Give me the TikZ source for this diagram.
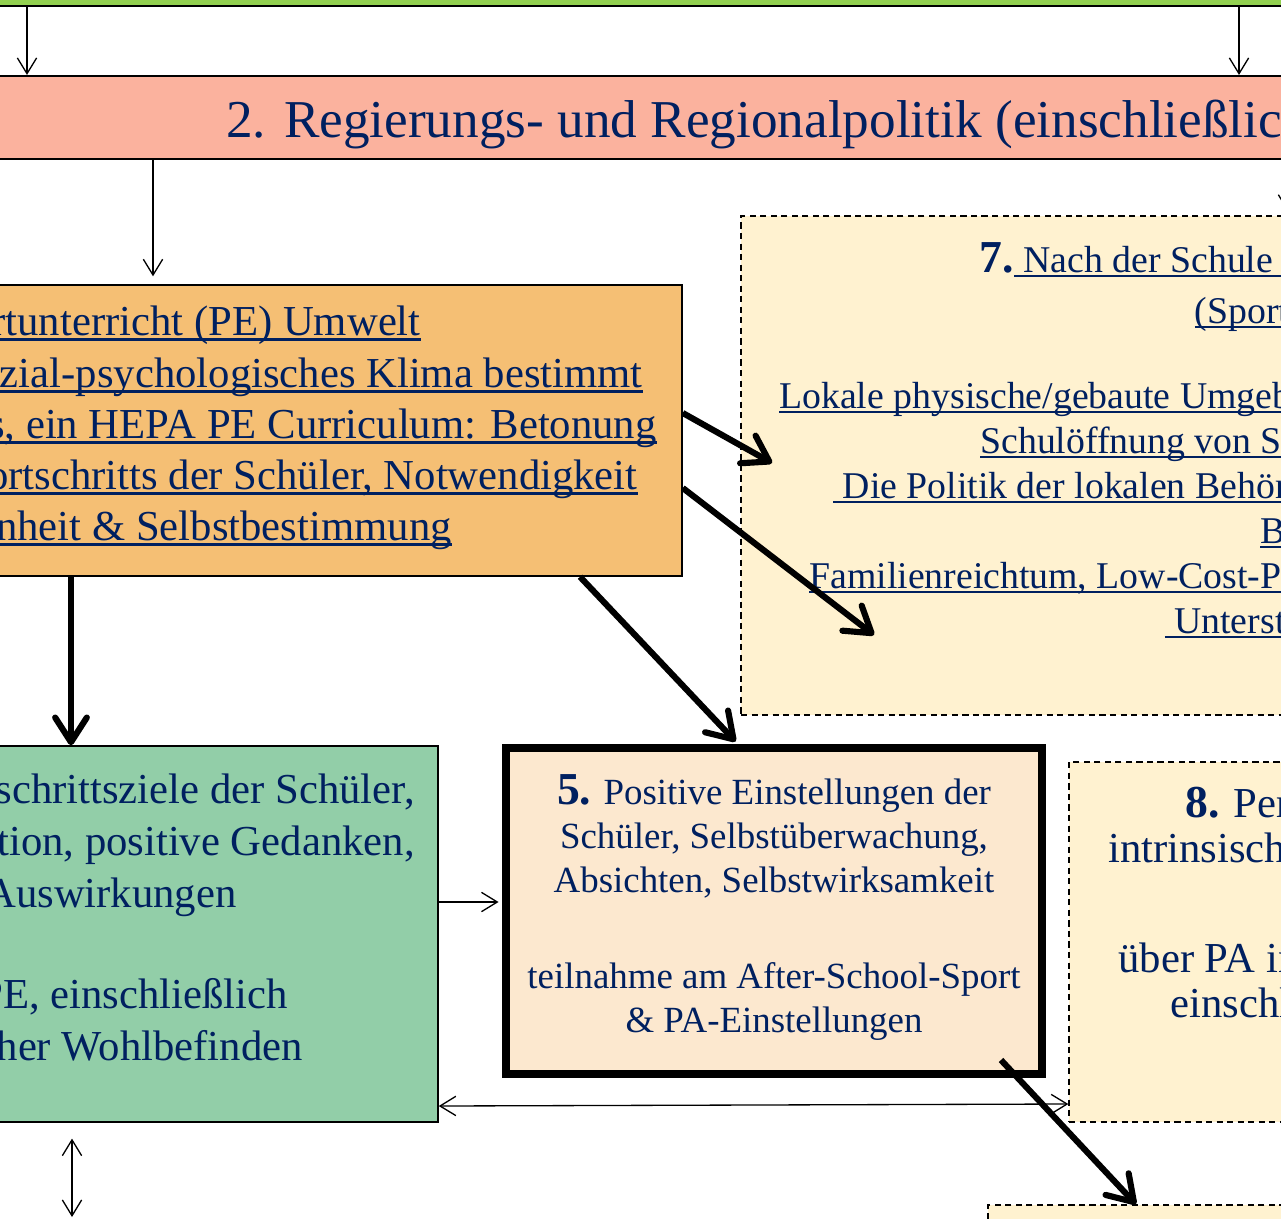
\documentclass[tikz,border=0pt]{standalone}
\usepackage{fontspec}
\setmainfont{Liberation Serif}
\usetikzlibrary{arrows.meta,fit}
\definecolor{navy}{RGB}{0,32,96}
\definecolor{topgreen}{RGB}{146,208,80}
\definecolor{pinkbox}{RGB}{251,178,158}
\definecolor{orangebox}{RGB}{245,191,116}
\definecolor{cream}{RGB}{255,242,208}
\definecolor{peach}{RGB}{252,232,207}
\definecolor{mint}{RGB}{146,206,168}
\newcommand\fs[2]{\fontsize{#1}{#2}\selectfont}
\newsavebox\ulbox
\newcommand\ulx[1]{\sbox\ulbox{#1}\rlap{\rule[-0.13em]{\wd\ulbox}{0.055em}}\usebox\ulbox}
\begin{document}
\begin{tikzpicture}[x=0.02cm,y=-0.02cm,
  box/.style={draw=black, inner sep=0pt, line width=0.9pt},
  dbox/.style={draw=black, fill=cream, inner sep=0pt, line width=0.8pt, dash pattern=on 3.5pt off 2.5pt},
  thinarr/.style={line width=0.75pt, -{Straight Barb[length=9pt,width=11pt]}},
  thinboth/.style={line width=0.75pt, {Straight Barb[length=9pt,width=11pt]}-{Straight Barb[length=9pt,width=11pt]}},
  thickarr/.style={line width=3.5pt, -{Straight Barb[length=14pt,width=18pt,round]}},
  txt/.style={inner sep=0pt, text=navy},
  big/.style={txt, font=\fs{24.3}{29}},
  mid/.style={txt, font=\fs{21.5}{25.5}},
  small/.style={txt, font=\fs{21}{25.2}},
]
\useasboundingbox (0,0) rectangle (1281,1218);
\clip (0,0) rectangle (1281,1218);

% boxes
\node[box, fill=topgreen, line width=1.2pt, fit={(-20,-40) (1300,6)}] (g0) {};
\node[box, fill=pinkbox, line width=1.2pt, fit={(-20,76) (1300,159)}] (p2) {};
\node[box, fill=orangebox, fit={(-20,285) (682,576)}] (o1) {};
\node[dbox, fit={(741,216) (1300,715)}] (b7) {};
\node[box, fill=mint, fit={(-20,746) (438,1122)}] (b4) {};
\node[box, fill=peach, line width=4.5pt, fit={(506,748) (1042,1074)}] (b5) {};
\node[dbox, fit={(1069,762) (1300,1122)}] (b8) {};
\node[dbox, fit={(988,1205) (1300,1300)}] (b9) {};

% pink text
\node[txt, anchor=base west, font=\fs{30.3}{36}] (t2) at (226,137) {2. Regierungs- und Regionalpolitik (einschließlich};

% orange text
\node[big, anchor=base east] (o1l1) at (421,335) {\ulx{rtunterricht (PE) Umwelt}};
\node[big, anchor=base east] (o1l2) at (643,387) {\ulx{zial-psychologisches Klima bestimmt}};
\node[big, anchor=base east] (o1l3) at (657,438) {\ulx{s, ein HEPA PE Curriculum: Betonung}};
\node[big, anchor=base east] (o1l4) at (638,489) {\ulx{ortschritts der Schüler, Notwendigkeit}};
\node[big, anchor=base east] (o1l5) at (452,540) {\ulx{nheit \& Selbstbestimmung}};

% box 7 text
\node[mid, anchor=base west] (b7l1) at (979.5,272) {{\bfseries\fs{26}{26}7.}\ulx{\ Nach der Schule\ \ }};
\node[mid, anchor=base west] (b7l2) at (1194.5,323) {\ulx{(Sport}};
\node[mid, anchor=base west] (b7l3) at (779,408) {\ulx{Lokale physische/gebaute Umgebung}};
\node[mid, anchor=base west] (b7l4) at (980,453) {\ulx{Schulöffnung von Schulen}};
\node[mid, anchor=base west] (b7l5) at (833,498) {\ulx{\ Die Politik der lokalen Behörden}};
\node[mid, anchor=base west] (b7l6) at (1260,543) {\ulx{B}};
\node[mid, anchor=base west] (b7l7) at (809,588) {\ulx{Familienreichtum, Low-Cost-Programme}};
\node[mid, anchor=base west] (b7l8) at (1164.5,633) {\ulx{\ Unterstützung}};

% green box text
\node[big, anchor=base east] (b4l1) at (415,803) {schrittsziele der Schüler,};
\node[big, anchor=base east] (b4l2) at (415,855) {tion, positive Gedanken,};
\node[big, anchor=base east] (b4l3) at (237,907) {Auswirkungen};
\node[big, anchor=base east] (b4l4) at (288,1008) {PE, einschließlich};
\node[big, anchor=base east] (b4l5) at (303,1060) {her Wohlbefinden};

% box 5 text
\node[small, align=center, anchor=north] (t5) at (774,774)
  {{\bfseries\fs{26}{25.2}5.} Positive Einstellungen der\\
   Schüler, Selbstüberwachung,\\
   Absichten, Selbstwirksamkeit\\[29pt]
   teilnahme am After-School-Sport\\
   \& PA-Einstellungen};

% box 8 text
\node[big, anchor=base west] (b8l1) at (1185,817) {{\bfseries\fs{26}{26}8.} Per};
\node[big, anchor=base west] (b8l2) at (1108,862) {intrinsisch};
\node[big, anchor=base west] (b8l3) at (1118,972) {über PA in};
\node[big, anchor=base west] (b8l4) at (1170,1017) {einschl};

% helper coordinates
\coordinate (xa) at (27,0);
\coordinate (xb) at (1239,0);
\coordinate (xc) at (153,0);
\coordinate (xd) at (1288,0);
\coordinate (xe) at (71,0);
\coordinate (xf) at (580,0);
\coordinate (xg) at (738,0);
\coordinate (xh) at (72,0);
\coordinate (xi) at (1136,0);
\coordinate (ya) at (0,413);
\coordinate (yb) at (0,488);
\coordinate (yc) at (0,902);
\coordinate (yd) at (0,1106);
\coordinate (ye) at (0,1104);
\coordinate (e1) at (772,463);
\coordinate (e2) at (874,635);
\coordinate (s5) at (1001,1060);
\coordinate (bot) at (72,1217);

% connectors
\draw[thinarr] (g0.south -| xa) -- (p2.north -| xa);
\draw[thinarr] (g0.south -| xb) -- (p2.north -| xb);
\draw[thinarr, shorten >=4.5pt] (p2.south -| xc) -- (o1.north -| xc);
\draw[thinarr, shorten >=2pt] (p2.south -| xd) -- (b7.north -| xd);
\draw[thickarr] (o1.south -| xe) -- (b4.north -| xe);
\draw[thickarr] (o1.east |- ya) -- (e1);
\draw[thickarr] (o1.east |- yb) -- (e2);
\draw[thickarr, shorten >=2pt] (o1.south -| xf) -- (b5.north -| xg);
\draw[thickarr] (s5) -- (b9.north -| xi);
\draw[thinarr, shorten >=2pt] (b4.east |- yc) -- (b5.west |- yc);
\draw[thinboth] (b4.east |- yd) -- (b8.west |- ye);
\draw[thinboth, shorten <=9pt] (b4.south -| xh) -- (bot);
\end{tikzpicture}
\end{document}
